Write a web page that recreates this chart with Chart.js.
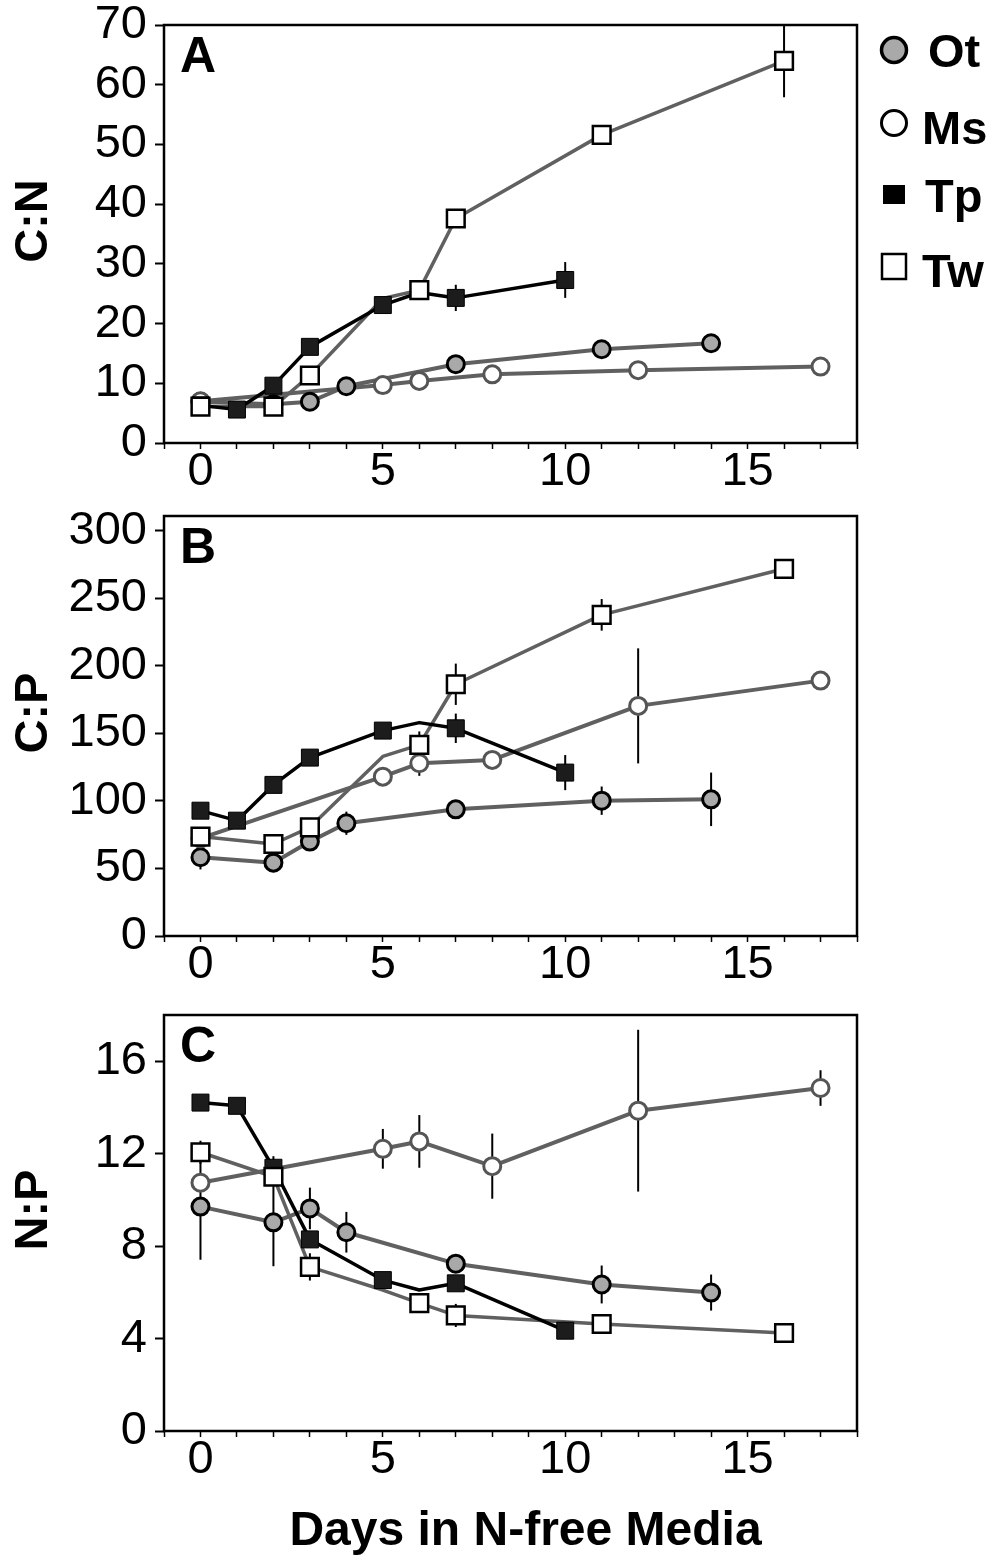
<!DOCTYPE html>
<html><head><meta charset="utf-8">
<script src="https://cdn.jsdelivr.net/npm/chart.js@4.4.1/dist/chart.umd.min.js"></script>
<style>
html,body{margin:0;padding:0;background:#fff;}
#wrap{position:relative;width:992px;height:1560px;background:#fff;}
canvas{position:absolute;left:0;}
</style></head><body>
<div id="wrap">
<canvas id="cA" width="992" height="500" style="top:0px;width:992px;height:500px"></canvas>
<canvas id="cB" width="992" height="500" style="top:500px;width:992px;height:500px"></canvas>
<canvas id="cC" width="992" height="560" style="top:1000px;width:992px;height:560px"></canvas>
</div>
<script>
// ---------------- DATA ----------------
const speciesNames = ['Ot', 'Ms', 'Tp', 'Tw'];
const xTickLabels = [0, 5, 10, 15];
const cnTicks = [0, 10, 20, 30, 40, 50, 60, 70];
const cpTicks = [0, 50, 100, 150, 200, 250, 300];
const npTicks = [0, 4, 8, 12, 16];

// sampling days (markers)
const otDays = [0, 2, 3, 4, 7, 11, 14];
const msDays = [0, 5, 6, 8, 12, 17];
const tpDays = [0, 1, 2, 3, 5, 7, 10];
const twDays = [0, 2, 3, 6, 7, 11, 16];
// days where the connecting line bends without a plotted marker
const tpLineOnlyDays = [6];
const twLineOnlyDays = [5];

// Panel A: C:N
const cnOt = [6.9, 6.5, 6.9, 9.5, 13.2, 15.7, 16.7];
const cnOtErr = [0, 0, 0, 0, 0, 0, 0];
const cnMs = [7.0, 9.7, 10.4, 11.5, 12.2, 12.8];
const cnMsErr = [0, 0, 0, 0, 0, 0];
const cnTp = [6.3, 5.6, 9.6, 16.1, 23.1, 24.3, 27.3];
const cnTpErr = [0, 0, 0, 0, 0, 2.2, 3.0];
const cnTw = [6.1, 6.1, 11.3, 25.6, 37.6, 51.6, 64.0];
const cnTwErr = [0, 0, 0, 0, 0, 0, 6.1];
const cnTpLineOnly = [25.2];
const cnTwLineOnly = [24.2];

// Panel B: C:P
const cpOt = [58.3, 54.3, 69.9, 83.5, 93.8, 100.2, 101.2];
const cpOtErr = [9, 7, 0, 8.6, 0, 10.5, 19.8];
const cpMs = [72.3, 118, 127.9, 130.4, 170.4, 189.1];
const cpMsErr = [0, 0, 9.3, 6, 42.6, 0];
const cpTp = [92.8, 85.4, 111.9, 132.1, 152.1, 153.8, 121];
const cpTpErr = [0, 0, 0, 0, 0, 10.9, 13];
const cpTw = [73.6, 68.1, 80.5, 141.5, 186.4, 237.8, 271.9];
const cpTwErr = [0, 0, 0, 10, 15.3, 11.7, 0];
const cpTpLineOnly = [158];
const cpTwLineOnly = [133];

// Panel C: N:P
const npOt = [9.71, 9.03, 9.63, 8.6, 7.24, 6.34, 5.99];
const npOtErr = [2.3, 1.9, 0.9, 0.88, 0, 0.82, 0.78];
const npMs = [10.74, 12.21, 12.53, 11.46, 13.86, 14.84];
const npMsErr = [0, 0.86, 1.14, 1.41, 3.5, 0.77];
const npTp = [14.21, 14.07, 11.39, 8.29, 6.53, 6.39, 4.34];
const npTpErr = [0, 0, 0.5, 0, 0, 0, 0];
const npTw = [12.06, 11.0, 7.1, 5.53, 5.0, 4.63, 4.24];
const npTwErr = [0.5, 0, 0.59, 0, 0.5, 0, 0];
const npTpLineOnly = [6.1];
const npTwLineOnly = [6.1];

// ---------------- STYLE / BUILD ----------------
const FONT = "'Liberation Sans', Arial, Helvetica, sans-serif";
const GRAY = '#606060';

function pts(days, vals) { return days.map((d, i) => ({x: d, y: vals[i]})); }
function path(days, vals, exDays, exVals) {
  const p = pts(days, vals);
  (exDays || []).forEach((d, i) => p.push({x: d, y: exVals[i]}));
  return p.sort((a, b) => a.x - b.x);
}

const markerStyle = {
  Ot: {pointStyle: 'circle', pointRadius: 8.5, backgroundColor: '#a9a9a9', borderColor: '#000', borderWidth: 3},
  Ms: {pointStyle: 'circle', pointRadius: 8.5, backgroundColor: '#fff', borderColor: '#555', borderWidth: 3},
  Tp: {pointStyle: 'rect', pointRadius: 12, backgroundColor: '#1c1c1c', borderColor: '#000', borderWidth: 1},
  Tw: {pointStyle: 'rect', pointRadius: 12.5, backgroundColor: '#fff', borderColor: '#000', borderWidth: 2.5}
};
const lineStyle = {
  Ot: {borderColor: GRAY, borderWidth: 4},
  Ms: {borderColor: GRAY, borderWidth: 4},
  Tp: {borderColor: '#000', borderWidth: 3.5},
  Tw: {borderColor: GRAY, borderWidth: 3.5}
};
const markerOrder = {Tw: 0, Tp: 1, Ms: 2, Ot: 3};
const lineOrder = {Tp: 4, Tw: 5, Ms: 6, Ot: 7};

function buildDatasets(p) {
  const sets = [];
  const defs = [
    ['Ot', otDays, p.ot, p.otErr, null, null],
    ['Ms', msDays, p.ms, p.msErr, null, null],
    ['Tp', tpDays, p.tp, p.tpErr, tpLineOnlyDays, p.tpLine],
    ['Tw', twDays, p.tw, p.twErr, twLineOnlyDays, p.twLine]
  ];
  defs.forEach(([name, days, vals, errs, exD, exV]) => {
    sets.push(Object.assign({
      type: 'line', label: name + ' line', data: path(days, vals, exD, exV),
      pointRadius: 0, pointHoverRadius: 0, tension: 0, fill: false,
      order: lineOrder[name], borderJoinStyle: 'round', borderCapStyle: 'round'
    }, lineStyle[name]));
    const m = markerStyle[name];
    sets.push({
      type: 'scatter', label: name, data: pts(days, vals), errors: errs,
      showLine: false, order: markerOrder[name],
      pointStyle: m.pointStyle, pointRadius: m.pointRadius, pointHoverRadius: m.pointRadius,
      pointBackgroundColor: m.backgroundColor, pointBorderColor: m.borderColor,
      pointBorderWidth: m.borderWidth, backgroundColor: m.backgroundColor, borderColor: m.borderColor
    });
  });
  return sets;
}

function zeroPad(s) { s.paddingTop = 0; s.paddingBottom = 0; s.paddingLeft = 0; s.paddingRight = 0; }

function decor(p) {
  return {
    id: 'decor' + p.letter,
    beforeDatasetsDraw(chart) {
      const ctx = chart.ctx, xs = chart.scales.x, ys = chart.scales.y, a = chart.chartArea;
      ctx.save();
      ctx.beginPath(); ctx.rect(a.left, a.top, a.right - a.left, a.bottom - a.top); ctx.clip();
      ctx.strokeStyle = '#000'; ctx.lineWidth = 2;
      chart.data.datasets.forEach(ds => {
        if (!ds.errors) return;
        ds.data.forEach((pt, i) => {
          const e = ds.errors[i]; if (!e) return;
          const x = xs.getPixelForValue(pt.x);
          ctx.beginPath();
          ctx.moveTo(x, ys.getPixelForValue(pt.y + e));
          ctx.lineTo(x, ys.getPixelForValue(pt.y - e));
          ctx.stroke();
        });
      });
      ctx.restore();
    },
    afterDraw(chart) {
      const ctx = chart.ctx, a = chart.chartArea;
      ctx.save();
      // frame
      ctx.strokeStyle = '#000'; ctx.lineWidth = 2.5;
      ctx.strokeRect(a.left, a.top, a.right - a.left, a.bottom - a.top);
      // panel letter
      ctx.fillStyle = '#000';
      ctx.font = 'bold 50px ' + FONT;
      ctx.textAlign = 'left'; ctx.textBaseline = 'alphabetic';
      ctx.fillText(p.letter, a.left + 16, a.top + 47);
      // y title
      ctx.save();
      ctx.translate(47, (a.top + a.bottom) / 2 - 13);
      ctx.rotate(-Math.PI / 2);
      ctx.font = 'bold 47px ' + FONT;
      ctx.textAlign = 'center'; ctx.textBaseline = 'alphabetic';
      ctx.fillText(p.title, 0, 0);
      ctx.restore();
      // x title
      if (p.xTitle) {
        ctx.font = 'bold 48px ' + FONT;
        ctx.textAlign = 'center'; ctx.textBaseline = 'alphabetic';
        ctx.fillText(p.xTitle, (a.left + a.right) / 2 + 15, a.bottom + 114);
      }
      // legend
      if (p.legend) {
        const cx = a.right + 37;
        ctx.lineWidth = 3.5; ctx.strokeStyle = '#000';
        // Ot
        ctx.beginPath(); ctx.arc(cx, 50, 12.5, 0, Math.PI * 2);
        ctx.fillStyle = '#a9a9a9'; ctx.fill(); ctx.stroke();
        // Ms
        ctx.beginPath(); ctx.arc(cx, 123, 12.5, 0, Math.PI * 2);
        ctx.fillStyle = '#fff'; ctx.fill(); ctx.lineWidth = 3; ctx.stroke();
        // Tp
        ctx.fillStyle = '#000'; ctx.fillRect(cx - 11, 185, 22, 19);
        // Tw
        ctx.fillStyle = '#fff'; ctx.lineWidth = 2.5;
        ctx.fillRect(cx - 12, 254, 24, 25); ctx.strokeRect(cx - 12, 254, 24, 25);
        ctx.fillStyle = '#000';
        ctx.font = 'bold 47px ' + FONT;
        ctx.textAlign = 'left'; ctx.textBaseline = 'alphabetic';
        const lx = [cx + 34, cx + 28, cx + 31, cx + 28];
        const ly = [67, 144, 212, 287];
        speciesNames.forEach((s, i) => ctx.fillText(s, lx[i], ly[i]));
      }
      ctx.restore();
    }
  };
}

function makeChart(p) {
  const canvasH = p.H;
  const xAxisH = canvasH - p.bottom;
  return new Chart(document.getElementById(p.id), {
    type: 'scatter',
    data: {datasets: buildDatasets(p)},
    options: {
      responsive: false, animation: false, devicePixelRatio: 1, events: [],
      layout: {padding: {top: p.top, right: 992 - 857, left: 0, bottom: 0}},
      plugins: {legend: {display: false}, tooltip: {enabled: false}, title: {display: false}},
      scales: {
        x: {
          type: 'linear', min: -1, max: 18,
          afterFit: s => { s.height = xAxisH; zeroPad(s); },
          ticks: {
            stepSize: 1, autoSkip: false, maxRotation: 0, minRotation: 0, padding: 0, color: '#000',
            font: {family: FONT, size: 47, lineHeight: 1},
            callback: v => xTickLabels.includes(v) ? String(v) : ''
          },
          grid: {drawOnChartArea: false, drawTicks: true, tickLength: 6, tickWidth: 1.5, tickColor: '#000'},
          border: {display: false}
        },
        y: {
          type: 'linear', min: 0, max: p.yMax,
          afterBuildTicks: s => { s.ticks = p.yTicks.map(v => ({value: v})); },
          afterFit: s => { s.width = 164; zeroPad(s); },
          ticks: {padding: 8, autoSkip: false, color: '#000', font: {family: FONT, size: 47, lineHeight: 1}},
          grid: {drawOnChartArea: false, drawTicks: true, tickLength: 9, tickWidth: 2, tickColor: '#000'},
          border: {display: false}
        }
      }
    },
    plugins: [decor(p)]
  });
}

makeChart({id: 'cA', letter: 'A', title: 'C:N', yMax: 70, yTicks: cnTicks, H: 500, top: 25, bottom: 443,
  ot: cnOt, otErr: cnOtErr, ms: cnMs, msErr: cnMsErr, tp: cnTp, tpErr: cnTpErr, tw: cnTw, twErr: cnTwErr,
  tpLine: cnTpLineOnly, twLine: cnTwLineOnly, legend: true});
makeChart({id: 'cB', letter: 'B', title: 'C:P', yMax: 311, yTicks: cpTicks, H: 500, top: 16, bottom: 436,
  ot: cpOt, otErr: cpOtErr, ms: cpMs, msErr: cpMsErr, tp: cpTp, tpErr: cpTpErr, tw: cpTw, twErr: cpTwErr,
  tpLine: cpTpLineOnly, twLine: cpTwLineOnly});
makeChart({id: 'cC', letter: 'C', title: 'N:P', yMax: 18, yTicks: npTicks, H: 560, top: 12, bottom: 431,
  ot: npOt, otErr: npOtErr, ms: npMs, msErr: npMsErr, tp: npTp, tpErr: npTpErr, tw: npTw, twErr: npTwErr,
  tpLine: npTpLineOnly, twLine: npTwLineOnly, xTitle: 'Days in N-free Media'});
</script>
</body></html>
